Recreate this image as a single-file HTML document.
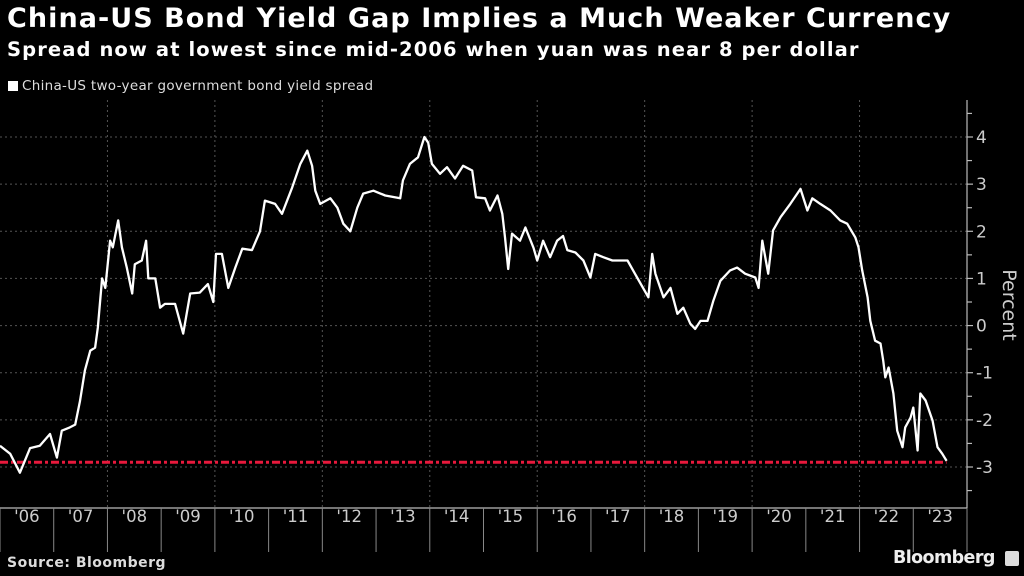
<!DOCTYPE html>
<html><head><meta charset="utf-8"><style>
html,body{margin:0;padding:0;background:#000;width:1024px;height:576px;overflow:hidden;font-family:"DejaVu Sans","Liberation Sans",sans-serif;color:#fff}
#title{position:absolute;left:7px;top:3px;font-size:27px;font-weight:bold;letter-spacing:1.05px;white-space:nowrap}
#sub{position:absolute;left:7px;top:38px;font-size:19.5px;font-weight:bold;letter-spacing:1.1px;white-space:nowrap}
#legend{position:absolute;left:8px;top:78px;font-size:13.5px;color:#ddd;letter-spacing:0.3px;white-space:nowrap}
#legend span.sw{display:inline-block;width:10px;height:10px;background:#fff;margin-right:4px;vertical-align:-1px}
#source{position:absolute;left:7px;top:555px;font-size:14px;font-weight:bold;color:#ddd;letter-spacing:0.5px;white-space:nowrap}
#logo{position:absolute;left:893px;top:548px;font-size:17.5px;font-weight:bold;color:#eee;letter-spacing:-0.6px;white-space:nowrap}
#logo-icon{position:absolute;left:1005px;top:551px;width:14px;height:15px;background:#ddd;border-radius:2px}
svg{position:absolute;left:0;top:0}
</style></head><body>
<div id="title">China-US Bond Yield Gap Implies a Much Weaker Currency</div>
<div id="sub">Spread now at lowest since mid-2006 when yuan was near 8 per dollar</div>
<div id="legend"><span class="sw"></span>China-US two-year government bond yield spread</div>
<div id="source">Source: Bloomberg</div>
<div id="logo">Bloomberg</div>
<div id="logo-icon"></div>
<svg id="chart" width="1024" height="576"></svg>
<script>
const dates=[2006.00,2006.19,2006.37,2006.56,2006.74,2006.93,2007.06,2007.15,2007.30,2007.40,2007.49,2007.58,2007.68,2007.77,2007.82,2007.90,2007.96,2008.05,2008.10,2008.20,2008.27,2008.36,2008.46,2008.51,2008.64,2008.72,2008.76,2008.89,2008.98,2009.07,2009.26,2009.41,2009.54,2009.72,2009.87,2009.97,2010.02,2010.13,2010.25,2010.38,2010.51,2010.69,2010.84,2010.93,2011.12,2011.25,2011.44,2011.59,2011.72,2011.81,2011.87,2011.96,2012.15,2012.28,2012.39,2012.52,2012.65,2012.76,2012.95,2013.17,2013.45,2013.50,2013.63,2013.78,2013.90,2013.97,2014.04,2014.19,2014.32,2014.47,2014.62,2014.79,2014.86,2015.03,2015.12,2015.26,2015.35,2015.40,2015.46,2015.53,2015.68,2015.78,2015.93,2016.00,2016.11,2016.24,2016.37,2016.48,2016.56,2016.71,2016.86,2016.99,2017.08,2017.23,2017.40,2017.68,2017.86,2018.07,2018.14,2018.20,2018.35,2018.48,2018.61,2018.72,2018.85,2018.94,2019.04,2019.17,2019.28,2019.41,2019.59,2019.72,2019.87,2020.06,2020.12,2020.19,2020.30,2020.39,2020.53,2020.71,2020.90,2021.03,2021.12,2021.27,2021.46,2021.64,2021.77,2021.92,2021.98,2022.05,2022.15,2022.20,2022.29,2022.39,2022.44,2022.48,2022.54,2022.63,2022.70,2022.80,2022.85,2022.95,2023.00,2023.08,2023.13,2023.23,2023.36,2023.45,2023.54,2023.62];
const spread=[-2.55,-2.72,-3.12,-2.6,-2.55,-2.3,-2.8,-2.23,-2.16,-2.1,-1.6,-0.95,-0.53,-0.47,-0.05,1.0,0.8,1.8,1.66,2.23,1.66,1.23,0.68,1.3,1.38,1.8,1.0,1.0,0.38,0.46,0.46,-0.17,0.68,0.7,0.88,0.5,1.52,1.52,0.8,1.23,1.63,1.6,2.0,2.65,2.58,2.37,2.93,3.43,3.71,3.39,2.86,2.58,2.7,2.5,2.16,2.0,2.5,2.8,2.86,2.76,2.7,3.08,3.43,3.57,4.0,3.88,3.43,3.22,3.36,3.12,3.39,3.29,2.72,2.7,2.44,2.76,2.37,1.87,1.2,1.95,1.8,2.08,1.65,1.38,1.8,1.45,1.8,1.9,1.6,1.55,1.38,1.02,1.52,1.45,1.38,1.38,1.02,0.6,1.52,1.1,0.6,0.8,0.25,0.38,0.04,-0.07,0.1,0.1,0.53,0.95,1.17,1.23,1.1,1.02,0.8,1.8,1.1,2.02,2.3,2.58,2.9,2.44,2.7,2.58,2.44,2.23,2.16,1.87,1.66,1.17,0.6,0.1,-0.32,-0.38,-0.74,-1.1,-0.89,-1.44,-2.23,-2.58,-2.16,-1.95,-1.74,-2.65,-1.44,-1.59,-2.02,-2.58,-2.72,-2.87];
const refLevel=[-2.9];
const refEnd=[2023.62];
const yTicks=[4,3,2,1,0,-1,-2,-3];
const yTickLabels=["4","3","2","1","0","-1","-2","-3"];
const xYears=[2006,2007,2008,2009,2010,2011,2012,2013,2014,2015,2016,2017,2018,2019,2020,2021,2022,2023];
const xLabels=["'06","'07","'08","'09","'10","'11","'12","'13","'14","'15","'16","'17","'18","'19","'20","'21","'22","'23"];
const gridYears=[2008,2010,2012,2014,2016,2018,2020,2022];

const X0=2006,X1=2024,PL=0,PR=967;
const Y0=-3,Y1=4,PB=467,PT=137;
const xs=t=>PL+(t-X0)/(X1-X0)*(PR-PL);
const ys=v=>PB-(v-Y0)/(Y1-Y0)*(PB-PT);
const svg=document.getElementById('chart');
const NS='http://www.w3.org/2000/svg';
function mk(tag,attrs){const e=document.createElementNS(NS,tag);for(const k in attrs)e.setAttribute(k,attrs[k]);svg.appendChild(e);return e;}

yTicks.forEach(v=>{
  const g=mk('line',{x1:0,x2:PR,y1:ys(v),y2:ys(v),stroke:'#555','stroke-width':1,'stroke-dasharray':'2,3'});
  
  
});
gridYears.forEach(t=>{
  const g=mk('line',{x1:xs(t),x2:xs(t),y1:100,y2:508,stroke:'#555','stroke-width':1,'stroke-dasharray':'2,3'});
  
  
});
const ya=mk('line',{x1:PR,x2:PR,y1:100,y2:508,stroke:'#bbb','stroke-width':1.2});


const xa=mk('line',{x1:0,x2:PR,y1:508,y2:508,stroke:'#bbb','stroke-width':1.2});


yTicks.forEach((v,i)=>{
  const t=mk('line',{x1:PR,x2:PR+6,y1:ys(v),y2:ys(v),stroke:'#bbb','stroke-width':1.2});
  
  
  const m=mk('line',{x1:PR,x2:PR+5,y1:ys(v-0.5),y2:ys(v-0.5),stroke:'#bbb','stroke-width':1.2});
  
  
  const l=mk('text',{x:PR+9,y:ys(v)+6,fill:'#ccc','font-size':17,'font-family':'DejaVu Sans, Liberation Sans, sans-serif'});
  l.textContent=yTickLabels[i];
  
  
});
const m4=mk('line',{x1:PR,x2:PR+5,y1:ys(4.5),y2:ys(4.5),stroke:'#bbb','stroke-width':1.2});


const yt=mk('text',{x:0,y:0,fill:'#ccc','font-size':19,'font-family':'DejaVu Sans, Liberation Sans, sans-serif','text-anchor':'middle',transform:'translate(1003,305) rotate(90)'});
yt.textContent='Percent';


xYears.forEach((yr,i)=>{
  const s=mk('line',{x1:xs(yr),x2:xs(yr),y1:508,y2:552,stroke:'#888','stroke-width':1});
  
  
  const l=mk('text',{x:xs(yr+0.5),y:522,fill:'#ccc','font-size':16.5,'font-family':'DejaVu Sans, Liberation Sans, sans-serif','text-anchor':'middle'});
  l.textContent=xLabels[i];
  
  
});
const se=mk('line',{x1:xs(2024),x2:xs(2024),y1:508,y2:552,stroke:'#888','stroke-width':1});


const rl=mk('line',{x1:0,x2:xs(refEnd[0]),y1:ys(refLevel[0]),y2:ys(refLevel[0]),stroke:'#e8193c','stroke-width':3,'stroke-dasharray':'8,3,3,3'});


const pts=dates.map((d,i)=>xs(d).toFixed(1)+','+ys(spread[i]).toFixed(1)).join(' ');
const pl=mk('polyline',{points:pts,fill:'none',stroke:'#fff','stroke-width':2.3,'stroke-linejoin':'round'});


</script>
</body></html>
